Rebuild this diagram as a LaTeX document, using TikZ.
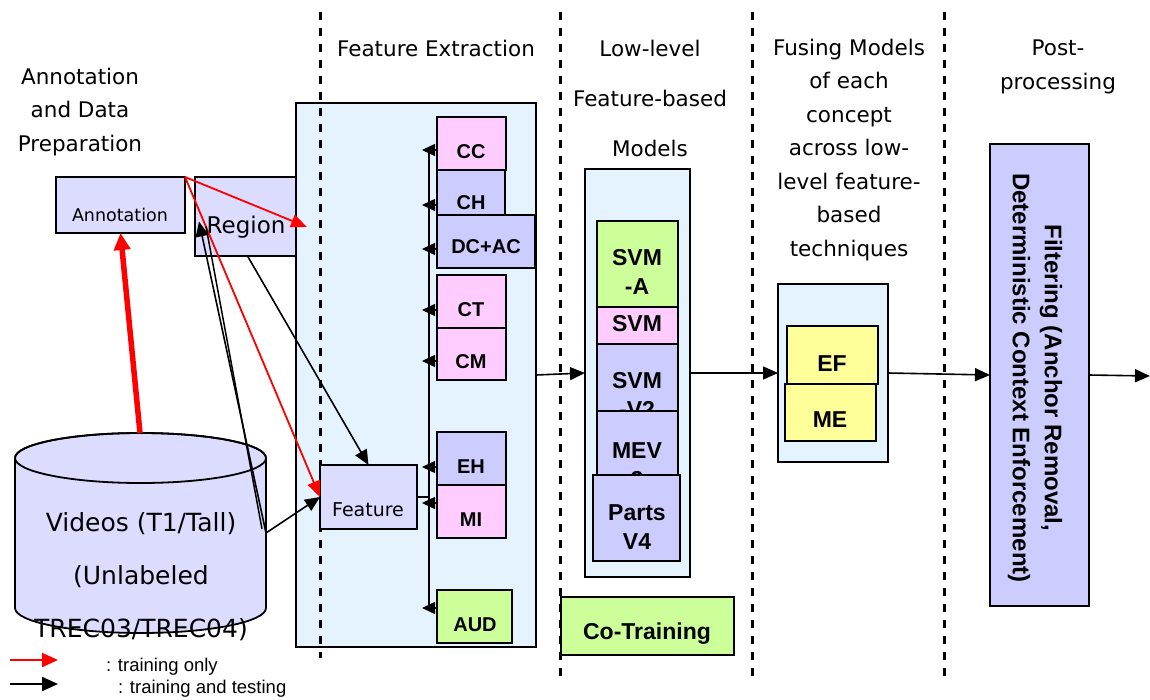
\documentclass[tikz,border=0pt]{standalone}
\usepackage{fontspec}
\setmainfont{Liberation Sans}
\newfontfamily\hand{DejaVu Sans}
\usetikzlibrary{arrows.meta,fit}
\definecolor{lav}{HTML}{DCDCFF}
\definecolor{blu}{HTML}{CCCCFF}
\definecolor{pnk}{HTML}{FFCCFF}
\definecolor{grn}{HTML}{CCFF99}
\definecolor{yel}{HTML}{FFFF99}
\definecolor{cont}{HTML}{E4F3FD}
\begin{document}
\begin{tikzpicture}[x=1pt,y=-1pt,
  every node/.style={inner sep=0pt, outer sep=0pt},
  box/.style={draw=black, line width=2.2pt, inner sep=0pt},
  cbox/.style={draw=black, line width=2.2pt, fill=cont, inner sep=0pt},
  hd/.style={font=\hand\fontsize{21.5}{33.5}\selectfont, align=center},
  bl/.style={font=\bfseries\fontsize{20}{22}\selectfont},
  bm/.style={font=\bfseries\fontsize{23}{29}\selectfont, align=center},
  arr/.style={-{Triangle[length=15pt,width=13pt]}, line width=1.6pt},
  arrS/.style={-{Triangle[length=13pt,width=12pt]}, line width=1.5pt},
  rarr/.style={draw=red, -{Triangle[length=16pt,width=13pt]}, line width=1.8pt},
  sep/.style={dash pattern=on 8pt off 8pt, line width=3pt},
]
\useasboundingbox (0,0) rectangle (1150,700);

% headers
\node[hd] (hA) at (80,112) {Annotation\\and Data\\Preparation};
\node[hd] (hF) at (436,48) {Feature Extraction};
\node[hd, font=\hand\fontsize{21.5}{50}\selectfont] (hL) at (650,98) {Low-level\\Feature-based\\Models};
\node[hd] (hU) at (849,150) {Fusing Models\\of each\\concept\\across low-\\level feature-\\based\\techniques};
\node[hd] (hP) at (1058,67) {Post-\\processing};

% containers
\node[cbox, fit={(296,103)(536,647)}] (FEc) {};
\node[cbox, fit={(585,169)(690,577)}] (LLc) {};
\node[cbox, fit={(778,284)(888,462)}] (FUc) {};

% separators
\draw[sep] (320,12) -- (320,658);
\draw[sep] (560,12) -- (560,676);
\draw[sep] (752,12) -- (752,676);
\draw[sep] (944,12) -- (944,676);

% cylinder
\filldraw[fill=lav, line width=1.8pt] (15,458) -- (15,608)
  arc[start angle=180, end angle=360, x radius=125.5pt, y radius=25pt]
  -- (266,458)
  arc[start angle=0, end angle=180, x radius=125.5pt, y radius=25pt] -- cycle;
\draw[line width=1.8pt] (140.5,458) ellipse [x radius=125.5pt, y radius=25pt];
\node[font=\hand\fontsize{25}{53}\selectfont, align=center] (vid) at (141,577) {Videos (T1/Tall)\\(Unlabeled\\TREC03/TREC04)};
\coordinate (cylTop) at (140,433);
\coordinate (cylR) at (266,533);
\coordinate (cylR2) at (262,529);

% left boxes
\node[box, fill=lav, fit={(56,177)(185,233)}] (Ann) {};
\node[font=\hand\fontsize{17.5}{20}\selectfont] at (120,215) {Annotation};
\node[box, fill=lav, fit={(195,177)(296,256)}] (Reg) {};
\node[font=\hand\fontsize{23}{26}\selectfont] at (246,227) {Region};
\node[box, fill=lav, fit={(320,465)(417,529)}] (Feat) {};
\node[font=\hand\fontsize{19}{22}\selectfont] at (368,510) {Feature};

% feature boxes
\node[box, fill=pnk, fit={(437,117)(506,170)}] (CC) {};
\node[bl] at (471,152) {CC};
\node[box, fill=blu, fit={(437,170)(505,215)}] (CH) {};
\node[bl] at (471,203) {CH};
\node[box, fill=blu, fit={(437,215)(535,268)}] (DCAC) {};
\node[bl] at (486,247) {DC+AC};
\node[box, fill=pnk, fit={(437,275)(506,328)}] (CT) {};
\node[bl] at (471,310) {CT};
\node[box, fill=pnk, fit={(437,328)(506,380)}] (CM) {};
\node[bl] at (471,362) {CM};
\node[box, fill=blu, fit={(437,432)(506,485)}] (EH) {};
\node[bl] at (471,467) {EH};
\node[box, fill=pnk, fit={(437,485)(506,538)}] (MI) {};
\node[bl] at (471,520) {MI};
\node[box, fill=grn, fit={(437,590)(512,643)}] (AUD) {};
\node[bl] at (475,625) {AUD};

% bus
\coordinate (busT) at (429,150);
\coordinate (busM) at (429,500);
\coordinate (busB) at (429,608);
\draw[line width=2.4pt] (busT) -- (busM);
\draw[line width=1.5pt] (busM) -- (busB);
\draw[line width=1.8pt] (Feat.east |- 0,497) -- (busM |- 0,497);
\draw[arrS] ([yshift=-6.5pt]CC.west) -- ++(-15,0);
\draw[arrS] ([yshift=-12.5pt]CH.west) -- ++(-15,0);
\draw[arrS] ([yshift=-7.5pt]DCAC.west) -- ++(-15,0);
\draw[arrS] ([yshift=-8.5pt]CT.west) -- ++(-15,0);
\draw[arrS] ([yshift=-7pt]CM.west) -- ++(-15,0);
\draw[arrS] ([yshift=-8.5pt]EH.west) -- ++(-15,0);
\draw[arrS] ([yshift=8.5pt]MI.west) -- ++(-15,0);
\draw[arrS] ([yshift=8.5pt]AUD.west) -- ++(-15,0);

% low-level models
\node[box, fill=grn, fit={(597,221)(678,307)}] (SA) {};
\node[bm] at (637,272) {SVM\\-A};
\node[box, fill=pnk, fit={(597,307)(678,344)}] (SV1) {};
\node[bm] at (637,338) {SVM\\-V1};
\node[box, fill=blu, fit={(597,344)(678,411)}] (SV2) {};
\node[bm] at (637,395) {SVM\\-V2};
\node[box, fill=blu, fit={(597,411)(678,475)}] (MEV) {};
\node[bm] at (637,465) {MEV\\2};
\node[box, fill=blu, fit={(593,475)(680,561)}] (PV) {};
\node[bm] at (637,527) {Parts\\V4};

\node[box, fill=grn, fit={(561,597)(734,655)}] (CoT) {};
\node[bm] at (647,634) {Co-Training};

% fusing
\node[box, fill=yel, fit={(787,326)(878,384)}] (EF) {};
\node[bm] at (832,364) {EF};
\node[box, fill=yel, fit={(785,384)(876,441)}] (ME) {};
\node[bm] at (830,420) {ME};

% filtering
\node[box, fill=blu, fit={(990,144)(1089,606)}] (Filt) {};
\node[font=\bfseries\fontsize{24}{32}\selectfont, align=center, rotate=-90] at (1035,378) {Filtering (Anchor Removal,\\Deterministic Context Enforcement)};
\coordinate (out) at (1150,376);

% main flow
\draw[arr] (FEc.east) -- (LLc.west);
\draw[arr] (LLc.east) -- (FUc.west);
\draw[arr] (FUc.east) -- (Filt.west);
\draw[arr] (Filt.east) -- (out);

% left connectors
\coordinate (rt) at (307,227);
\draw[red, line width=5.5pt, -{Triangle[length=17pt,width=16pt]}] (cylTop) -- (Ann.south);
\draw[rarr] (Ann.north east) -- (rt);
\draw[rarr] (Ann.north east) -- (Feat.west);
\draw[arr] (cylR) -- (Feat.west);
\draw[arr] (cylR) -- ([shift={(4,5)}]Reg.west);
\draw[line width=1.5pt] (cylR2) -- ([shift={(11,10)}]Reg.west);
\draw[arr] ([xshift=2pt]Reg.south) -- (Feat.north);

% legend
\coordinate (l1a) at (10,660); \coordinate (l1b) at (58,660);
\coordinate (l2a) at (10,684); \coordinate (l2b) at (58,684);
\draw[red, line width=2.2pt, -{Triangle[length=16pt,width=14pt]}] (l1a) -- (l1b);
\draw[line width=2.2pt, -{Triangle[length=16pt,width=14pt]}] (l2a) -- (l2b);
\node[anchor=west, font=\fontsize{18.5}{20}\selectfont] at (106,667) {: training only};
\node[anchor=west, font=\fontsize{18.5}{20}\selectfont] at (118,689) {: training and testing};
\end{tikzpicture}
\end{document}
